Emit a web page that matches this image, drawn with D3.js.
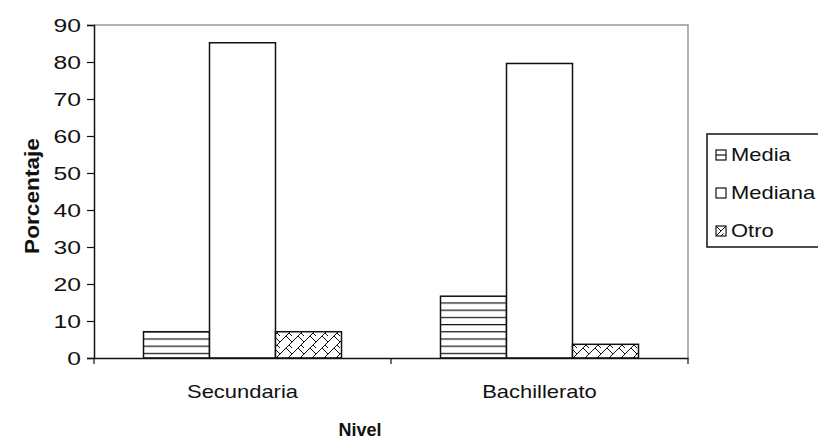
<!DOCTYPE html>
<html>
<head>
<meta charset="utf-8">
<script src="https://cdn.jsdelivr.net/npm/d3@7/dist/d3.min.js"></script>
<style>
  html, body { margin: 0; padding: 0; background: #fff; }
  svg { display: block; }
  text { font-family: Arial, "Liberation Sans", sans-serif; fill: #111; }
</style>
</head>
<body>
<svg id="chart" width="818" height="441"></svg>
<script>
// Porcentaje por nivel educativo
const categories = ["Secundaria", "Bachillerato"];
const seriesNames = ["Media", "Mediana", "Otro"];
const media   = [7.1, 16.7];
const mediana = [85.2, 79.6];
const otro    = [7.1, 3.7];
const yTicks  = [0, 10, 20, 30, 40, 50, 60, 70, 80, 90];

const seriesValues = [media, mediana, otro];
const rows = categories.map((c, i) => ({
  cat: c,
  vals: seriesNames.map((s, j) => ({ key: s, value: seriesValues[j][i] }))
}));

const svg = d3.select("#chart");
const m = { left: 94, top: 25, right: 688, bottom: 358 };
const sx = 1.22; // horizontal text stretch

// Fill patterns
const defs = svg.append("defs");
const pH = defs.append("pattern").attr("id", "pat-media")
  .attr("patternUnits", "userSpaceOnUse").attr("width", 8).attr("height", 7.2);
pH.append("rect").attr("width", 8).attr("height", 7.2).attr("fill", "#fff");
pH.append("line").attr("x1", 0).attr("x2", 8).attr("y1", 0.6).attr("y2", 0.6)
  .attr("stroke", "#111").attr("stroke-width", 1.2);

const pB = defs.append("pattern").attr("id", "pat-otro")
  .attr("patternUnits", "userSpaceOnUse").attr("width", 12).attr("height", 12);
pB.append("rect").attr("width", 12).attr("height", 12).attr("fill", "#fff");
pB.append("path")
  .attr("d", "M0,12 L12,0 M-3,3 L3,-3 M9,15 L15,9 M0,0 L6,6 M6,12 L3,9")
  .attr("stroke", "#111").attr("stroke-width", 1).attr("fill", "none");

const fills = { Media: "url(#pat-media)", Mediana: "#fff", Otro: "url(#pat-otro)" };

const x0 = d3.scaleBand().domain(categories).range([m.left, m.right]).paddingInner(0).paddingOuter(0);
const inner = x0.bandwidth() / 4.5;
const x1 = d3.scaleBand().domain(seriesNames)
  .range([x0.bandwidth() / 2 - 1.5 * inner, x0.bandwidth() / 2 + 1.5 * inner]).padding(0);
const y = d3.scaleLinear().domain([0, 90]).range([m.bottom, m.top]);

// Plot area frame (top and right in grey)
svg.append("path")
  .attr("d", `M${m.left},${m.top}H${m.right}V${m.bottom}`)
  .attr("fill", "none").attr("stroke", "#999").attr("stroke-width", 1.5);

// Bars
const groups = svg.append("g").selectAll("g").data(rows).join("g")
  .attr("transform", d => `translate(${x0(d.cat)},0)`);
groups.selectAll("rect").data(d => d.vals).join("rect")
  .attr("x", d => x1(d.key))
  .attr("width", x1.bandwidth())
  .attr("y", d => y(d.value))
  .attr("height", d => y(0) - y(d.value))
  .attr("fill", d => fills[d.key])
  .attr("stroke", "#111").attr("stroke-width", 1.5);

// Y axis
const yAxis = svg.append("g").attr("transform", `translate(${m.left},0)`)
  .call(d3.axisLeft(y).tickValues(yTicks).tickSize(7).tickPadding(0).tickFormat(d3.format("d")));
yAxis.select(".domain").attr("stroke", "#111").attr("stroke-width", 1.5);
yAxis.selectAll(".tick line").attr("stroke", "#111").attr("stroke-width", 1.2);
yAxis.selectAll(".tick text").remove();
yAxis.selectAll(".tick").append("text")
  .attr("transform", `translate(-13,0) scale(1.3,1)`)
  .attr("text-anchor", "end").attr("dy", "0.36em")
  .attr("font-size", 19).attr("fill", "#222")
  .text(d => d);

// X axis
const xAxis = svg.append("g").attr("transform", `translate(0,${m.bottom})`)
  .call(d3.axisBottom(x0).tickSize(0).tickFormat(""));
xAxis.select(".domain").attr("stroke", "#111").attr("stroke-width", 1.5);
xAxis.selectAll(".tick line").remove();
xAxis.append("g").selectAll("line")
  .data(x0.domain().map(c => x0(c)).concat([m.right]))
  .join("line")
  .attr("x1", d => d).attr("x2", d => d).attr("y1", 0).attr("y2", 6)
  .attr("stroke", "#111").attr("stroke-width", 1.2);
xAxis.selectAll(".tick").append("text")
  .attr("transform", `translate(0,40) scale(${sx},1)`)
  .attr("text-anchor", "middle")
  .attr("font-size", 18).attr("fill", "#222")
  .text(d => d);

// Axis titles
svg.append("text")
  .attr("transform", `translate(360,436)`)
  .attr("text-anchor", "middle").attr("font-size", 18).attr("font-weight", "bold")
  .text("Nivel");
svg.append("text")
  .attr("transform", `translate(39,196) rotate(-90) scale(1.08,1)`)
  .attr("text-anchor", "middle").attr("font-size", 21).attr("font-weight", "bold")
  .text("Porcentaje");

// Legend
const lg = svg.append("g").attr("transform", "translate(707,134)");
lg.append("rect").attr("width", 125).attr("height", 113)
  .attr("fill", "#fff").attr("stroke", "#111").attr("stroke-width", 1.5);
const items = lg.selectAll("g.item").data(seriesNames).join("g")
  .attr("class", "item")
  .attr("transform", (d, i) => `translate(9,${21 + i * 38})`);
items.append("rect")
  .attr("x", 0).attr("y", -5).attr("width", 10).attr("height", 10)
  .attr("fill", "#fff").attr("stroke", "#111").attr("stroke-width", 1.2);
items.filter(d => d === "Media").append("line")
  .attr("x1", 0).attr("x2", 10).attr("y1", 0).attr("y2", 0)
  .attr("stroke", "#111").attr("stroke-width", 1.2);
items.filter(d => d === "Otro").append("path")
  .attr("d", "M0,5 L5,0 L10,-5 M0,-5 L5,0 M5,5 L7.5,2.5")
  .attr("stroke", "#111").attr("stroke-width", 1).attr("fill", "none");
items.append("text")
  .attr("transform", `translate(15,0) scale(${sx},1)`)
  .attr("dy", "0.36em").attr("font-size", 18).attr("fill", "#222")
  .text(d => d);
</script>
</body>
</html>
